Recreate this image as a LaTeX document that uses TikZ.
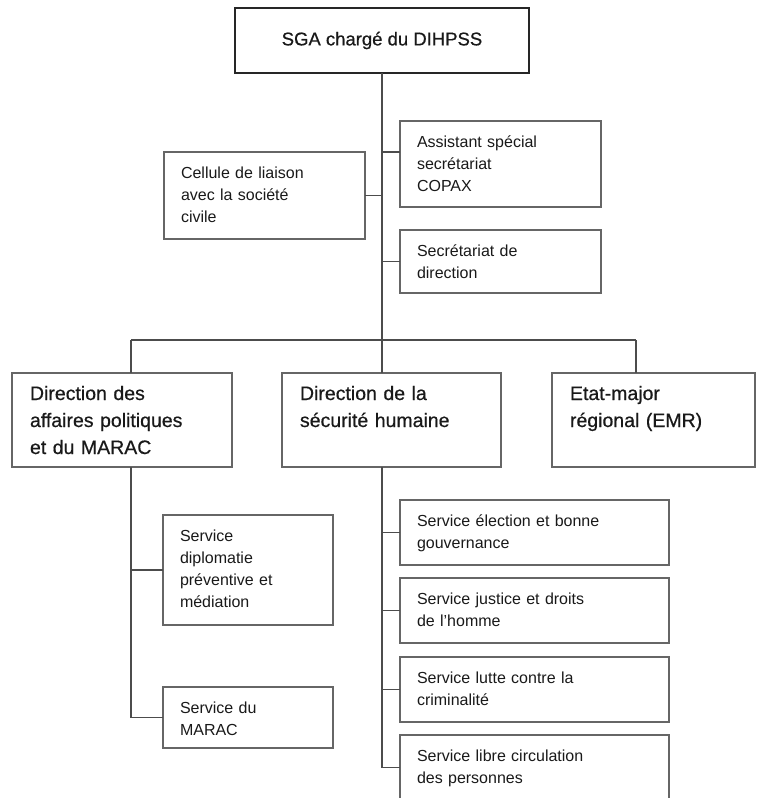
\documentclass[tikz,border=0pt]{standalone}
\usepackage{fontspec}
\setmainfont{Liberation Sans}
\newfontfamily\headfont[FakeBold=0.6]{Liberation Sans}
\usepackage{tikz}
\usetikzlibrary{positioning,calc}

\begin{document}
\begin{tikzpicture}[x=1pt, y=-1pt]
	\tikzstyle{head} = [rectangle, draw=black!85, line width=1.5pt, minimum width=294pt, minimum height=65pt, outer sep=0pt, text=black!90, font=\headfont\fontsize{18.5}{22}\selectfont]
	\tikzstyle{service} = [rectangle, draw=black!60, line width=1.2pt, anchor=north west, inner xsep=17pt, inner ysep=0pt, outer sep=0pt, align=left, text height=26pt, text=black!90, font=\fontsize{16}{22}\selectfont]
	\tikzstyle{direction} = [service, inner xsep=18pt, text height=27pt, text depth=67pt, font=\headfont\fontsize{19.5}{27}\selectfont]
	\tikzstyle{link} = [draw=black!70, line width=1.1pt]
	\useasboundingbox (0,0) rectangle (759,798);

	\node (sga) [head] at (382,40.5) {SGA chargé du DIHPSS};
	\node (cel) [service, text width=167pt, text depth=61pt] at (164,152) {Cellule de liaison\\avec la société\\civile};
	\node (asc) [service, text width=167pt, text depth=60pt] at (400,121) {Assistant spécial\\secrétariat\\COPAX};
	\node (sec) [service, text width=167pt, text depth=37pt] at (400,230) {Secrétariat de\\direction};

	\node (dap) [direction, text width=184pt] at (12,373) {Direction des\\affaires politiques\\et du MARAC};
	\node (dsh) [direction, text width=183pt] at (282,373) {Direction de la\\sécurité humaine};
	\node (emr) [direction, text width=167pt] at (552,373) {Etat-major\\régional (EMR)};

	\node (sdp) [service, text width=136pt, text depth=84pt] at (163,515) {Service\\diplomatie\\préventive et\\médiation};
	\node (smr) [service, text width=136pt, text depth=35pt] at (163,687) {Service du\\MARAC};

	\node (seb) [service, text width=235pt, text depth=39pt] at (400,500) {Service élection et bonne\\gouvernance};
	\node (sjd) [service, text width=235pt, text depth=39pt] at (400,578) {Service justice et droits\\de l’homme};
	\node (slc) [service, text width=235pt, text depth=39pt] at (400,657) {Service lutte contre la\\criminalité};
	\node (slp) [service, text width=235pt, text depth=39pt] at (400,735) {Service libre circulation\\des personnes};

	\coordinate (busL) at (131,340);
	\coordinate (busM) at (382,340);
	\coordinate (busR) at (636,340);
	\coordinate (ascin) at ($(asc.north west)+(0,31)$);

	\draw [link] (sga.south) -- (busM |- dsh.north);
	\draw [link] (cel.east) -- (cel.east -| busM);
	\draw [link] (ascin) -- (ascin -| busM);
	\draw [link] (sec.west) -- (sec.west -| busM);
	\draw [link] (busL) -- (busR);
	\draw [link] (busL) -- (busL |- dap.north);
	\draw [link] (busR) -- (busR |- emr.north);

	\draw [link] (busL |- dap.south) |- (smr.west);
	\draw [link] (sdp.west) -- (sdp.west -| busL);

	\draw [link] (busM |- dsh.south) |- (slp.west);
	\draw [link] (seb.west) -- (seb.west -| busM);
	\draw [link] (sjd.west) -- (sjd.west -| busM);
	\draw [link] (slc.west) -- (slc.west -| busM);
\end{tikzpicture}
\end{document}
